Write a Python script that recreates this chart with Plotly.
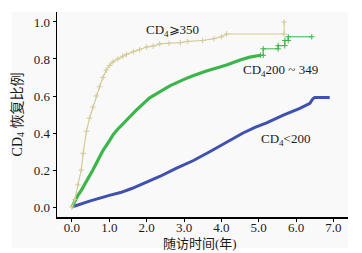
import plotly.graph_objects as go

# CD4 >= 350
t_hi = [0, 0.08, 0.16, 0.25, 0.30, 0.39, 0.47, 0.56, 0.65, 0.74, 0.83, 0.92, 1.01, 1.10, 1.23, 1.36,
        1.46, 1.65, 1.81, 2.00, 2.17, 2.35, 2.60, 2.90, 3.10, 3.50, 3.80, 4.00, 4.14, 5.68, 5.68]
v_hi = [0, 0.04, 0.12, 0.20, 0.29, 0.41, 0.48, 0.54, 0.60, 0.65, 0.70, 0.74, 0.765, 0.785, 0.80, 0.815,
        0.825, 0.84, 0.85, 0.865, 0.87, 0.882, 0.885, 0.888, 0.895, 0.90, 0.91, 0.92, 0.935, 0.935, 1.0]

# CD4 200~349 (dense part)
t_mid = [0, 0.05, 0.15, 0.25, 0.35, 0.47, 0.56, 0.65, 0.83, 1.01, 1.10, 1.20, 1.46, 1.73, 2.08, 2.35,
         2.62, 3.00, 3.24, 3.60, 4.14, 4.50, 4.76, 5.05]
v_mid = [0, 0.02, 0.06, 0.09, 0.125, 0.16, 0.20, 0.235, 0.305, 0.36, 0.39, 0.415, 0.47, 0.525, 0.59, 0.625,
         0.655, 0.69, 0.71, 0.735, 0.767, 0.795, 0.81, 0.82]
# CD4 200~349 (sparse tail, steps)
t_mid_tail = [5.05, 5.12, 5.12, 5.52, 5.52, 5.70, 5.70, 5.79, 5.79, 6.42]
v_mid_tail = [0.82, 0.82, 0.855, 0.855, 0.872, 0.872, 0.90, 0.90, 0.92, 0.92]

# CD4 < 200
t_lo = [0, 0.20, 0.47, 1.00, 1.30, 1.60, 1.90, 2.35, 2.80, 3.24, 3.70, 3.96, 4.30, 4.58, 4.90, 5.21,
        5.66, 6.10, 6.37, 6.45, 6.50, 6.90]
v_lo = [0, 0.015, 0.032, 0.063, 0.078, 0.10, 0.125, 0.165, 0.21, 0.25, 0.30, 0.33, 0.37, 0.40, 0.43, 0.455,
        0.497, 0.533, 0.56, 0.585, 0.592, 0.592]

x_ticks = [0, 1, 2, 3, 4, 5, 6, 7]
y_ticks = [0, 0.2, 0.4, 0.6, 0.8, 1.0]

c_hi = '#d3cb98'
c_mid = '#3cb64a'
c_lo = '#3e50b0'
font = '"Liberation Serif", "DejaVu Serif", "Noto Sans CJK SC", serif'
txt = '#1a1a1a'

fig = go.Figure()
fig.add_trace(go.Scatter(x=t_lo, y=v_lo, mode='lines', line=dict(color=c_lo, width=3)))
fig.add_trace(go.Scatter(x=t_mid, y=v_mid, mode='lines', line=dict(color=c_mid, width=3.2)))
fig.add_trace(go.Scatter(x=t_mid_tail, y=v_mid_tail, mode='lines+markers', line=dict(color=c_mid, width=1),
                         marker=dict(symbol='cross-thin', size=4, line=dict(color=c_mid, width=1))))
fig.add_trace(go.Scatter(x=t_hi, y=v_hi, mode='lines+markers', line=dict(color=c_hi, width=1.2),
                         marker=dict(symbol='cross-thin', size=4, line=dict(color=c_hi, width=1))))

ann = dict(showarrow=False, font=dict(family=font, size=13, color=txt))
fig.add_annotation(x=2.70, y=0.953, text='CD<sub>4</sub>⩾350', **ann)
fig.add_annotation(x=5.57, y=0.736, text='CD<sub>4</sub>200 ~ 349', **ann)
fig.add_annotation(x=5.73, y=0.365, text='CD<sub>4</sub><200', **ann)
# x axis title
fig.add_annotation(xref='paper', yref='paper', x=0.491, y=-0.13, xanchor='center', yanchor='middle',
                   text='随访时间(年)', showarrow=False, font=dict(family=font, size=13, color=txt))

fig.add_shape(type='rect', xref='paper', yref='paper', x0=-0.156, x1=1.0, y0=-0.153, y1=1.0,
              fillcolor='#f9f9f9', line=dict(width=0), layer='below')

fig.update_layout(
    width=362, height=253,
    margin=dict(l=57, r=14, t=12, b=36),
    paper_bgcolor='white', plot_bgcolor='rgba(0,0,0,0)',
    showlegend=False,
    font=dict(family=font, size=13, color=txt),
)
fig.update_xaxes(range=[-0.4, 7.39], tickvals=x_ticks, tickformat='.1f', showgrid=False, zeroline=False,
                 showline=True, linecolor='black', linewidth=1.5, ticks='outside', ticklen=3, tickwidth=1,
                 tickcolor='black', tickfont=dict(size=13), automargin=False, ticklabelstandoff=-5)
fig.update_yaxes(range=[-0.054, 1.054], tickvals=y_ticks, tickformat='.1f', showgrid=False, zeroline=False,
                 showline=True, linecolor='black', linewidth=1.5, ticks='outside', ticklen=3, tickwidth=1,
                 tickcolor='black', tickfont=dict(size=13), automargin=False,
                 title=dict(text='CD<sub>4</sub> 恢复比例', font=dict(size=14), standoff=8))

fig.write_html('out.html', config={'displayModeBar': False, 'staticPlot': True},
               post_script="document.body.style.margin='0';document.body.style.padding='0';"
                           "document.body.style.overflow='hidden';")
